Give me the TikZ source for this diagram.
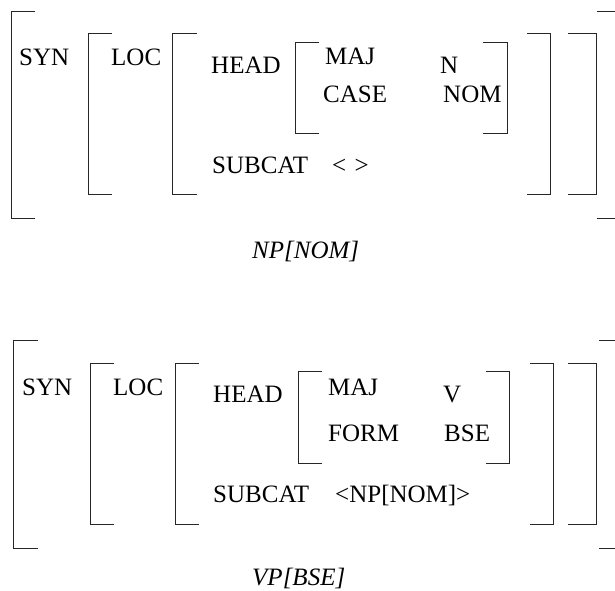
\documentclass[tikz,border=0pt]{standalone}
\usepackage{fontspec}
\setmainfont{Liberation Serif}
% left bracket: x, top, bottom, tick end x
\newcommand\avmL[4]{\draw[brk] (#4,#2) -- (#1,#2) -- (#1,#3) -- (#4,#3);}
% right bracket: x, top, bottom, tick start x
\newcommand\avmR[4]{\draw[brk] (#4,#2) -- (#1,#2) -- (#1,#3) -- (#4,#3);}
\begin{document}
\begin{tikzpicture}[x=1pt,y=-1pt,
  brk/.style={line width=1pt,line cap=rect,black!85},
  lbl/.style={anchor=base west,inner sep=0pt,font=\fontsize{25}{30}\selectfont},
  captxt/.style={lbl,font=\fontsize{25}{30}\selectfont\itshape}]
\useasboundingbox (0,0) rectangle (615,590);
\clip (0,0) rectangle (615,590);

% ---- NP[NOM] ----
\avmL{11}{11}{218}{34}
\avmL{88}{33}{194}{111}
\avmL{172}{33}{194}{196}
\avmL{295}{42}{133}{318}
\avmR{507}{42}{133}{483}
\avmR{550}{33}{194}{527}
\avmR{596}{33}{194}{568}
\avmR{616}{11}{218}{597}
\node[lbl] (syn1) at (19,65) {SYN};
\node[lbl] (loc1) at (111,65) {LOC};
\node[lbl] (head1) at (211,73) {HEAD};
\node[lbl] (maj1) at (325,64) {MAJ};
\node[lbl] (majv1) at (440,73) {N};
\node[lbl] (case1) at (323,102) {CASE};
\node[lbl] (casev1) at (443,102) {NOM};
\node[lbl] (sub1) at (212,173) {SUBCAT};
\node[lbl] (subv1) at (332,173) {<\,\,>};
\node[captxt] (np) at (252,258) {NP[NOM]};

% ---- VP[BSE] ----
\avmL{13}{340}{548}{37}
\avmL{90}{363}{524}{113}
\avmL{175}{363}{524}{198}
\avmL{298}{371}{463}{321}
\avmR{509}{371}{463}{486}
\avmR{553}{363}{524}{530}
\avmR{596}{363}{524}{568}
\avmR{616}{340}{548}{599}
\node[lbl] (syn2) at (22,395) {SYN};
\node[lbl] (loc2) at (113,395) {LOC};
\node[lbl] (head2) at (213,402) {HEAD};
\node[lbl] (maj2) at (328,395) {MAJ};
\node[lbl] (majv2) at (443,402) {V};
\node[lbl] (form2) at (328,441) {FORM};
\node[lbl] (formv2) at (444,441) {BSE};
\node[lbl] (sub2) at (213,502) {SUBCAT};
\node[lbl] (subv2) at (335,502) {<NP[NOM]>};
\node[captxt] (vp) at (252,585) {VP[BSE]};
\end{tikzpicture}
\end{document}
